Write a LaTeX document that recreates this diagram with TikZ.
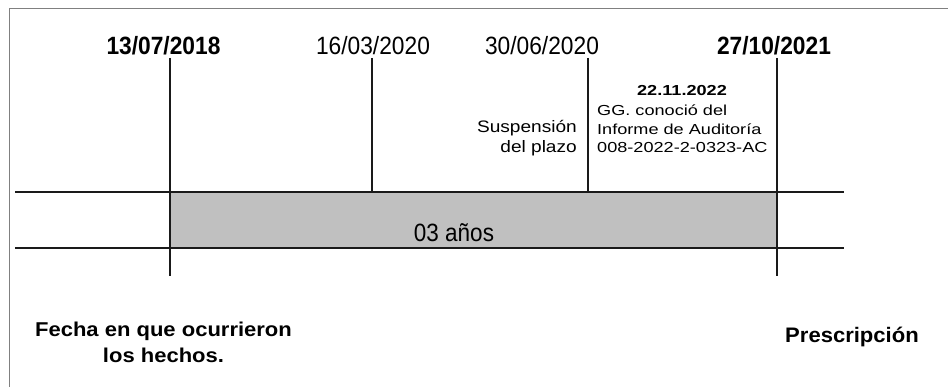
\documentclass[tikz,border=0pt]{standalone}
\usepackage{fontspec}
\setmainfont{Liberation Sans}
\newfontfamily\datefont[FakeStretch=0.91]{Liberation Sans}
\newfontfamily\smallwide[FakeStretch=1.25]{Liberation Sans}
\newfontfamily\midwide[FakeStretch=1.15]{Liberation Sans}
\newfontfamily\labwide[FakeStretch=1.1]{Liberation Sans}
\newfontfamily\prescfont[FakeStretch=1.05]{Liberation Sans}
\newfontfamily\yearsfont[FakeStretch=0.9]{Liberation Sans}
\definecolor{framegray}{HTML}{808080}
\definecolor{bandgray}{HTML}{C0C0C0}
\definecolor{inkline}{HTML}{1A1A1A}
\begin{document}
\begin{tikzpicture}[x=1pt,y=-1pt,
  axis/.style={draw=inkline,line width=1.4pt},
  tick/.style={draw=inkline,line width=1.3pt},
  datebold/.style={anchor=base,inner sep=0pt,font=\datefont\bfseries\fontsize{25}{29}\selectfont},
  datereg/.style={anchor=base,inner sep=0pt,font=\datefont\fontsize{25}{29}\selectfont},
  biglab/.style={anchor=base,inner sep=0pt,font=\labwide\bfseries\fontsize{20}{26}\selectfont},
  note/.style={inner sep=0pt,font=\smallwide\fontsize{14.5}{18.5}\selectfont},
]
\useasboundingbox (0,0) rectangle (948,387);
% frame
\draw[framegray,line width=1.4pt] (9.5,387) -- (9.5,8.5) -- (948,8.5);
% band
\fill[bandgray] (170,192) rectangle (777,248);
\coordinate (l1a) at (15,192); \coordinate (l1b) at (844,192);
\coordinate (l2a) at (15,248); \coordinate (l2b) at (844,248);
\draw[axis] (l1a) -- (l1b);
\draw[axis] (l2a) -- (l2b);
% ticks
\coordinate (t1) at (170,58); \coordinate (b1) at (170,276);
\coordinate (t2) at (372,58); \coordinate (b2) at (372,192);
\coordinate (t3) at (588,58); \coordinate (b3) at (588,192);
\coordinate (t4) at (777,58); \coordinate (b4) at (777,276);
\draw[tick] (t1) -- (b1);
\draw[tick] (t2) -- (b2);
\draw[tick] (t3) -- (b3);
\draw[tick] (t4) -- (b4);
% dates
\node[datebold] (d1) at (163.5,55) {13/07/2018};
\node[datereg]  (d2) at (373,55) {16/03/2020};
\node[datereg]  (d3) at (542,55) {30/06/2020};
\node[datebold] (d4) at (774,55) {27/10/2021};
% notes
\node[note,anchor=base,font=\smallwide\bfseries\fontsize{14.5}{18.5}\selectfont] (n0) at (682,96) {22.11.2022};
\node[note,anchor=base west] (n1) at (597,116) {\begin{tabular}[t]{@{}l@{}}GG. conoció del\\Informe de Auditoría\\008-2022-2-0323-AC\end{tabular}};
\node[inner sep=0pt,anchor=base east,font=\midwide\fontsize{16.6}{19.5}\selectfont] (s1) at (577,133) {\begin{tabular}[t]{@{}r@{}}Suspensión\\del plazo\end{tabular}};
\node[inner sep=0pt,anchor=base,font=\yearsfont\fontsize{25}{30}\selectfont] (y1) at (454,242) {03 años};
\node[biglab] (f1) at (163.5,337) {\begin{tabular}[t]{@{}c@{}}Fecha en que ocurrieron\\los hechos.\end{tabular}};
\node[biglab,font=\prescfont\bfseries\fontsize{21}{26}\selectfont] (p1) at (852,342) {Prescripción};
\end{tikzpicture}
\end{document}
